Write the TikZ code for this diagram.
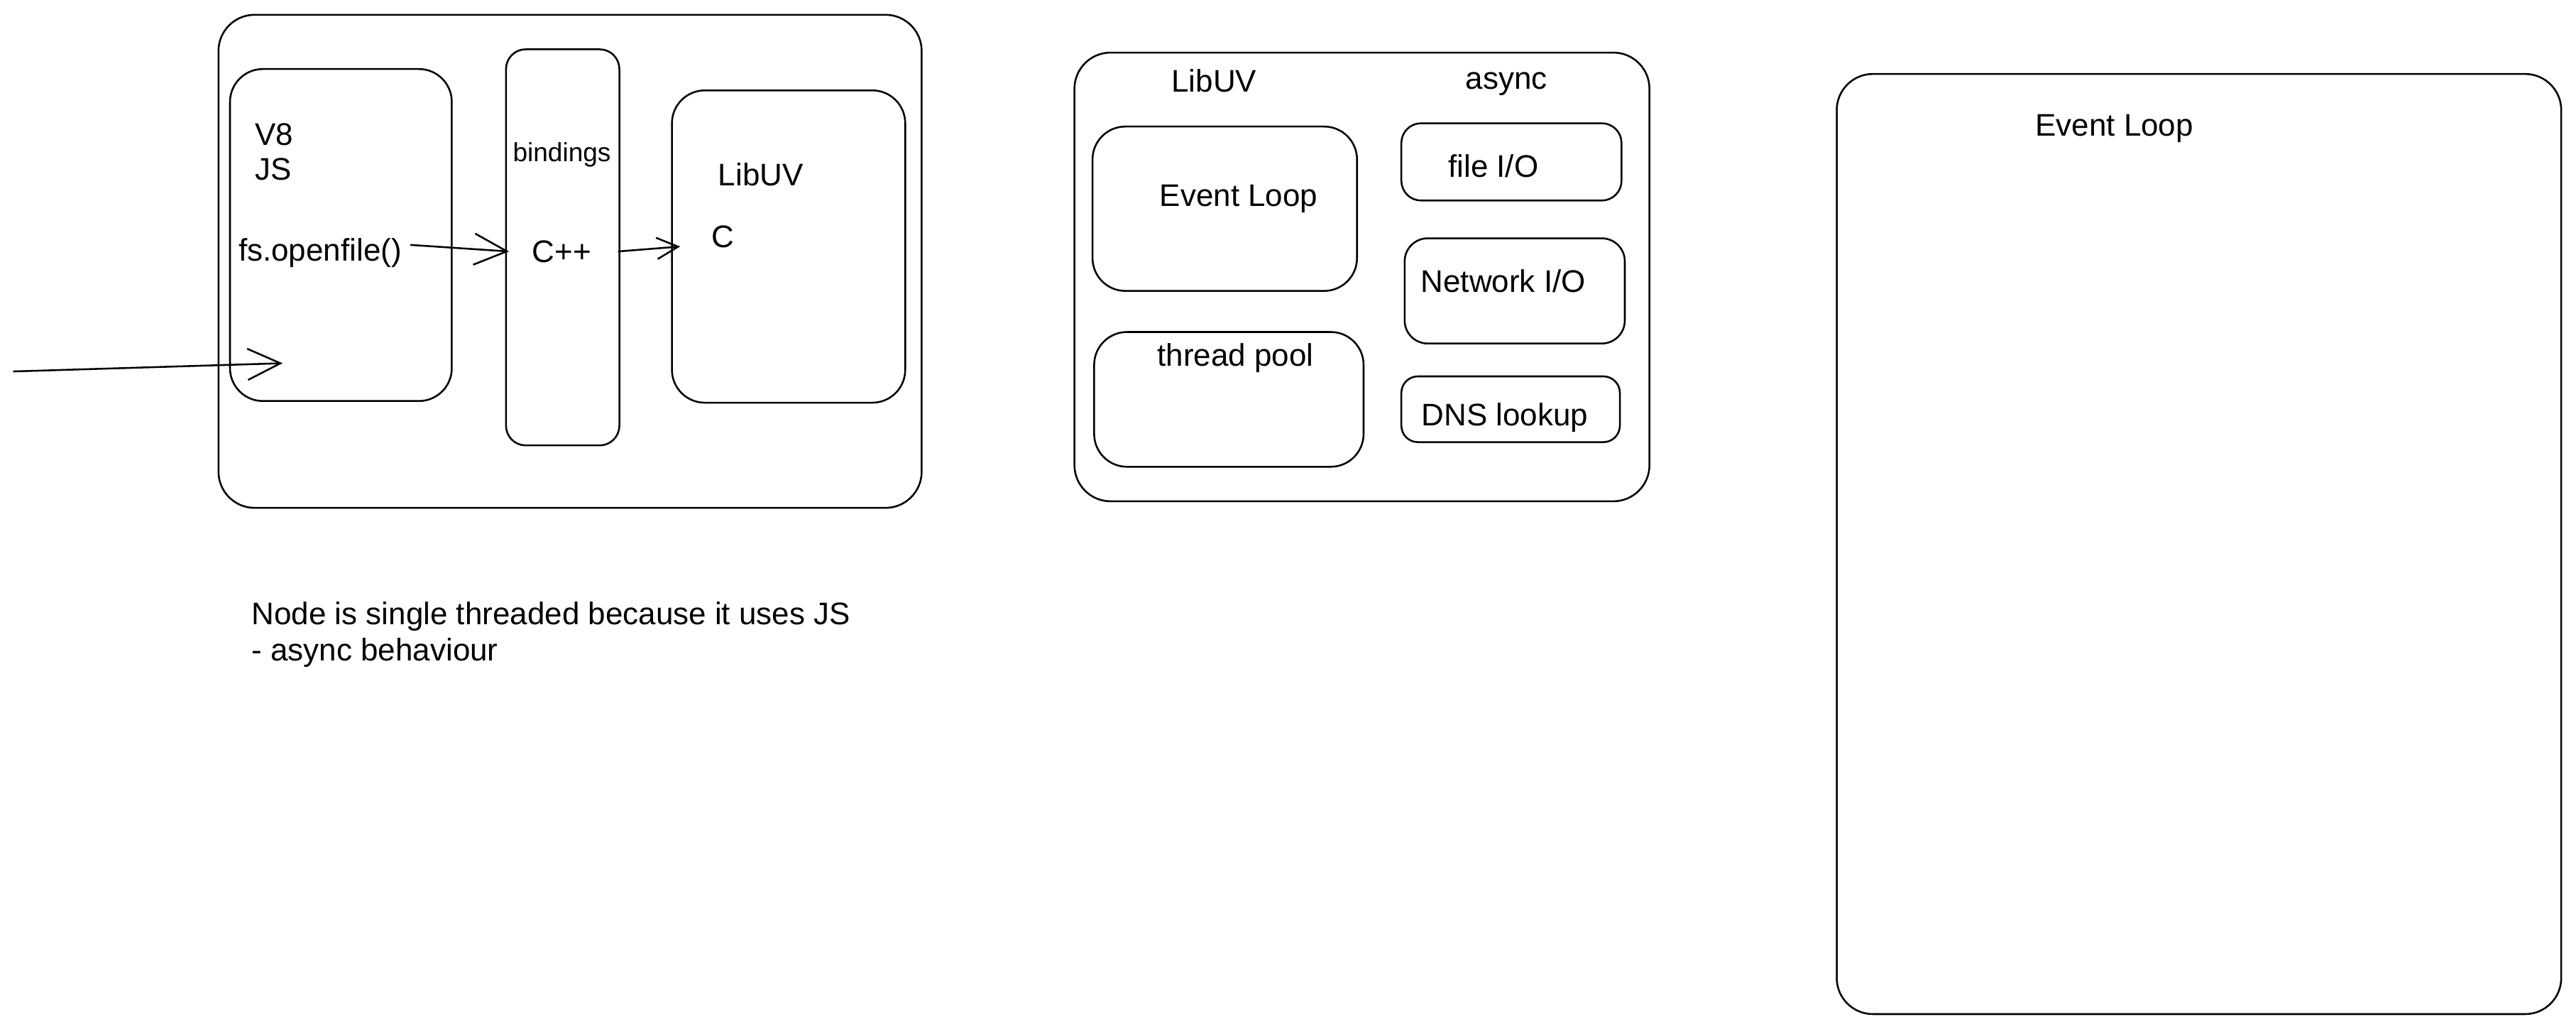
\documentclass[tikz,border=0pt]{standalone}
\usepackage{fontspec}
\setmainfont{Liberation Sans}
\usetikzlibrary{fit,arrows.meta}
\begin{document}
\begin{tikzpicture}[x=1pt,y=-1pt,
  box/.style={draw, line width=1.1pt, rounded corners=#1, inner sep=0pt},
  box/.default=20pt,
  lbl/.style={inner sep=0pt, yshift=-2pt, font=\fontsize{19}{22}\selectfont},
  arr/.style={line width=1.1pt, -{Straight Barb[length=20pt,width=19pt,line width=1.1pt]}},
  arrs/.style={line width=1.1pt, -{Straight Barb[length=13pt,width=13pt,line width=1.1pt]}}]
\useasboundingbox (0,0) rectangle (1568,626);
% --- first diagram ---
\node[box=22pt, fit={(133,9) (561,309)}] (outerA) {};
\node[box=20pt, fit={(140,42) (275,244)}] (v8box) {};
\node[box=12pt, fit={(308,30) (377,271)}] (bindbox) {};
\node[box=20pt, fit={(409,55) (551,245)}] (libuvbox) {};
\node[lbl, anchor=west] (v8) at (155,80) {V8};
\node[lbl, anchor=west] (js) at (155,101) {JS};
\node[lbl, anchor=west] (fs) at (145,152) {fs.openfile()};
\node[lbl, font=\fontsize{16}{20}\selectfont] (bindings) at (342,92) {bindings};
\node[lbl] (cpp) at (342,151) {C++};
\node[lbl, anchor=west] (libuvA) at (437,104) {LibUV};
\node[lbl, anchor=west] (cnode) at (433,142) {C};
\draw[arr] ([xshift=5pt,yshift=5pt]fs.east) -- ([xshift=-14pt]cpp.west);
\draw[arrs] ([xshift=16pt]cpp.east) -- ([xshift=-19pt,yshift=-6pt]cnode.west);
\coordinate (src) at (8,226);
\coordinate (dst) at (172,221);
\draw[arr] (src) -- (dst);
\node[lbl, anchor=base west, align=left] (note) at (153,400)
  {Node is single threaded because it uses JS\\- async behaviour};
% --- second diagram ---
\node[box=22pt, fit={(654,32) (1004,305)}] (outerB) {};
\node[lbl] (libuvB) at (739,47) {LibUV};
\node[lbl] (async) at (917,49) {async};
\node[box=20pt, fit={(665,77) (826,177)}] (evbox) {};
\node[lbl] (ev) at (754,119) {Event Loop};
\node[box=20pt, fit={(666,202) (830,284)}] (tpbox) {};
\node[lbl] (tp) at (752,216) {thread pool};
\node[box=12pt, fit={(853,75) (987,122)}] (filebox) {};
\node[lbl] (file) at (909,99) {file I/O};
\node[box=14pt, fit={(855,145) (989,209)}] (netbox) {};
\node[lbl] (net) at (915,169) {Network I/O};
\node[box=10pt, fit={(853,229) (986,269)}] (dnsbox) {};
\node[lbl] (dns) at (916,252) {DNS lookup};
% --- third diagram ---
\node[box=22pt, fit={(1118,45) (1559,617)}] (outerC) {};
\node[lbl] (evC) at (1287,76) {Event Loop};
\end{tikzpicture}
\end{document}
